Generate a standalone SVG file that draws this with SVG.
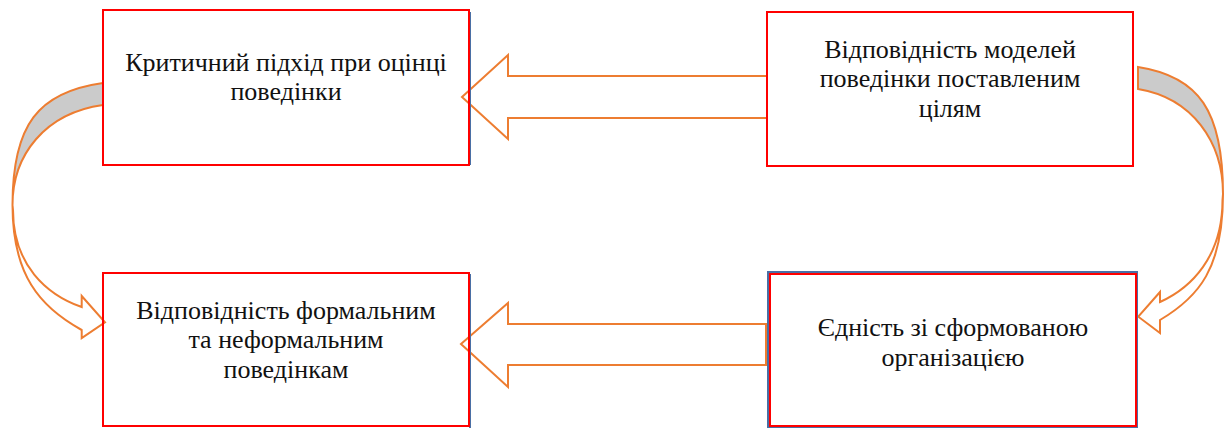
<svg xmlns="http://www.w3.org/2000/svg" width="1232" height="428" viewBox="0 0 1232 428" xml:lang="uk" font-family="Liberation Serif" font-size="26">
<rect width="1232" height="428" fill="#ffffff"/>
<g id="connectors" fill="#ffffff" stroke="#ED7D31" stroke-width="2">
  <polygon points="462,97 508,55 508,76 767,76 767,118 508,118 508,139"/>
  <polygon points="461,344 508,303 508,324 766,324 766,365 508,365 508,387"/>
  <path d="M12.5,205 C12.5,275 39.7,306.9 81.7,330 L81.7,338 L105,322.3 L81.7,296 L81.7,307 C46.7,294.75 13,265 13,210 Z"/>
  <path fill="#CBCBCB" d="M103,83 C38,92 12.5,125 12.5,205 C12.5,155 45,113 103,105 Z"/>
  <path d="M1223,194 C1223,268 1199,297 1160,320 L1160,333 L1138.3,316.7 L1160,292 L1160,302 C1191,288 1222.5,257 1222.5,200 Z"/>
  <path fill="#CBCBCB" d="M1138,67 C1199,76.4 1223,111 1223,194 C1223,142 1192.5,98 1138,89 Z"/>
</g>
<g id="node1">
  <line stroke="#4A6FA5" stroke-width="2" x1="470" y1="12" x2="470" y2="165"/>
  <rect fill="none" stroke="#FF0000" stroke-width="2" x="103" y="10" width="366" height="155"/>
  <text fill="#111111" text-anchor="middle" style="font-family:'Liberation Serif',Tinos,'Times New Roman',serif;font-size:26px" x="286" y="71">Критичний підхід при оцінці</text>
  <text fill="#111111" text-anchor="middle" style="font-family:'Liberation Serif',Tinos,'Times New Roman',serif;font-size:26px" x="286" y="100">поведінки</text>
</g>
<g id="node2">
  <rect fill="none" stroke="#FF0000" stroke-width="2" x="767" y="12" width="366" height="154"/>
  <text fill="#111111" text-anchor="middle" style="font-family:'Liberation Serif',Tinos,'Times New Roman',serif;font-size:26px" x="950" y="58">Відповідність моделей</text>
  <text fill="#111111" text-anchor="middle" style="font-family:'Liberation Serif',Tinos,'Times New Roman',serif;font-size:26px" x="950" y="87">поведінки поставленим</text>
  <text fill="#111111" text-anchor="middle" style="font-family:'Liberation Serif',Tinos,'Times New Roman',serif;font-size:26px" x="950" y="117">цілям</text>
</g>
<g id="node3">
  <line stroke="#4A6FA5" stroke-width="2" x1="470" y1="274" x2="470" y2="428"/>
  <rect fill="none" stroke="#FF0000" stroke-width="2" x="103" y="273" width="366" height="153"/>
  <text fill="#111111" text-anchor="middle" style="font-family:'Liberation Serif',Tinos,'Times New Roman',serif;font-size:26px" x="286" y="319">Відповідність формальним</text>
  <text fill="#111111" text-anchor="middle" style="font-family:'Liberation Serif',Tinos,'Times New Roman',serif;font-size:26px" x="286" y="348">та неформальним</text>
  <text fill="#111111" text-anchor="middle" style="font-family:'Liberation Serif',Tinos,'Times New Roman',serif;font-size:26px" x="286" y="378">поведінкам</text>
</g>
<g id="node4">
  <rect fill="none" stroke="#4A6FA5" stroke-width="2" x="768" y="272" width="369" height="156"/>
  <rect fill="none" stroke="#FF0000" stroke-width="2" x="770" y="274" width="366" height="152"/>
  <text fill="#111111" text-anchor="middle" style="font-family:'Liberation Serif',Tinos,'Times New Roman',serif;font-size:26px" x="953" y="336">Єдність зі сформованою</text>
  <text fill="#111111" text-anchor="middle" style="font-family:'Liberation Serif',Tinos,'Times New Roman',serif;font-size:26px" x="953" y="366">організацією</text>
</g>
</svg>
